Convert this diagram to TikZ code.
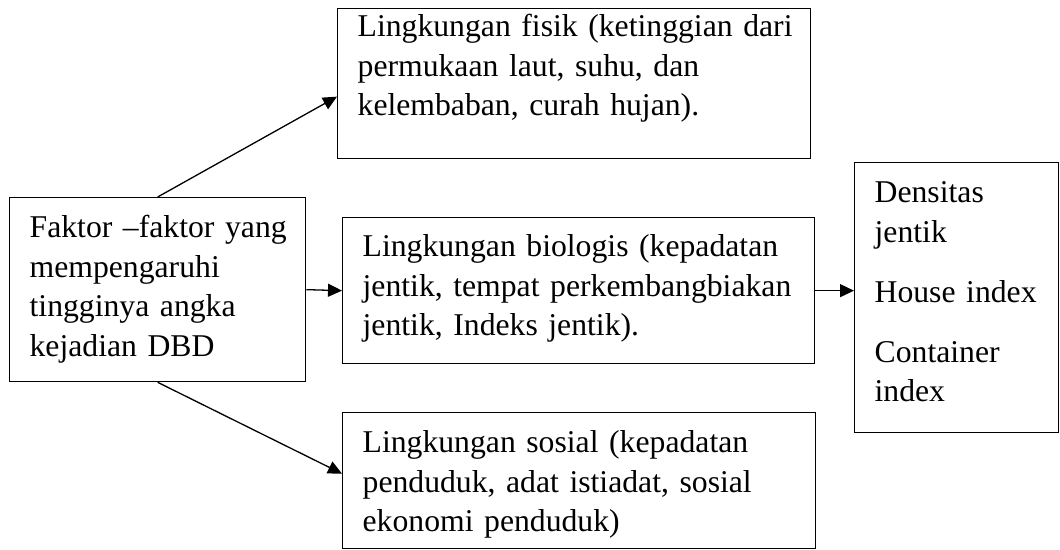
\documentclass[tikz,border=0pt]{standalone}
\usepackage{fontspec}
\setmainfont{Liberation Serif}
\usetikzlibrary{arrows.meta}

\tikzset{
  kotak/.style={draw, line width=1.3pt, anchor=north west, inner xsep=0pt, inner ysep=0pt,
    align=left, font=\fontsize{31.7}{39.5}\selectfont,
    execute at begin node={\leftskip=20pt\rightskip=-30pt plus 1fil}},
  panah/.style={line width=1.3pt, -{Triangle[length=14pt,width=13pt]}}
}

\begin{document}
\begin{tikzpicture}[x=1pt,y=-1pt]
  \useasboundingbox (0,0) rectangle (1060,549);
  % kotak-kotak
  \node[kotak, text width=296pt, text height=40pt, text depth=144pt] (faktor) at (9,197)
    {Faktor --faktor yang\\mempengaruhi\\tingginya angka\\kejadian DBD};
  \node[kotak, text width=473pt, text height=28pt, text depth=122pt] (fisik) at (337,8)
    {Lingkungan fisik (ketinggian dari\\permukaan laut, suhu, dan\\kelembaban, curah hujan).};
  \node[kotak, text width=472pt, text height=39pt, text depth=107pt] (biologis) at (342,217)
    {Lingkungan biologis (kepadatan\\jentik, tempat perkembangbiakan\\jentik, Indeks jentik).};
  \node[kotak, text width=473pt, text height=40pt, text depth=96pt] (sosial) at (342,412)
    {Lingkungan sosial (kepadatan\\penduduk, adat istiadat, sosial\\ekonomi penduduk)};
  \node[kotak, text width=204pt, text height=40pt, text depth=230pt] (indikator) at (854,162)
    {Densitas\\jentik\\[21pt]House index\\[20pt]Container\\index};
  % panah
  \draw[panah] (faktor.north) -- ([yshift=-13pt]fisik.west);
  \draw[panah] (faktor.east) -- (biologis.west);
  \draw[panah] (faktor.south) -- ([yshift=7pt]sosial.west);
  \draw[panah] (biologis.east) -- (biologis.east -| indikator.west);
\end{tikzpicture}
\end{document}
